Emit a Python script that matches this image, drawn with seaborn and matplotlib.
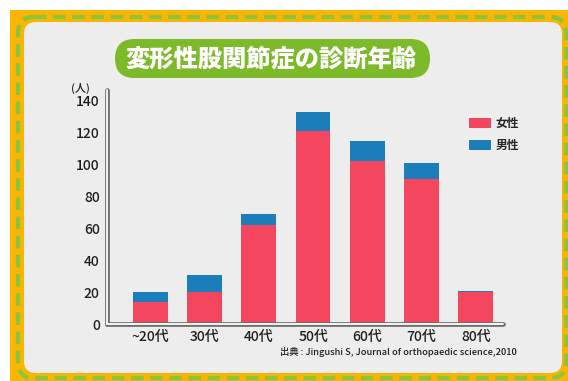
import matplotlib
matplotlib.use("Agg")
import matplotlib.pyplot as plt
from matplotlib.patches import FancyBboxPatch, Rectangle
from matplotlib.lines import Line2D
import seaborn as sns
import pandas as pd

# ---- data ----
categories = ["~20代", "30代", "40代", "50代", "60代", "70代", "80代"]
female = [14, 20, 62, 121, 102, 91, 20]
male = [6, 11, 7, 12, 13, 10, 1]
yticks = [0, 20, 40, 60, 80, 100, 120, 140]
title = "変形性股関節症の診断年齢"
unit_label = "(人)"
source = "出典 : Jingushi S, Journal of orthopaedic science,2010"
legend_labels = ["女性", "男性"]

sns.set_style("white")
plt.rcParams["font.family"] = ["Noto Sans CJK JP", "DejaVu Sans"]

RED = "#F4475F"
BLUE = "#1B7DB9"
ORANGE = "#F9B500"
GREEN = "#8CC43C"
PANEL = "#EDEDED"
GRAY = "#6E6E6E"
TXT = "#1E1E1E"

W, H = 568, 381
fig = plt.figure(figsize=(W / 100, H / 100), dpi=100)
fig.patch.set_facecolor("white")

# background decoration axes in pixel coords
bg = fig.add_axes([0, 0, 1, 1], zorder=-1)
bg.set_xlim(0, W)
bg.set_ylim(H, 0)
bg.axis("off")
bg.add_patch(Rectangle((10, 10), W, H, facecolor=ORANGE, edgecolor="none"))
bg.add_patch(FancyBboxPatch((18, 17), 548, 361, boxstyle="round,pad=0,rounding_size=16",
                            facecolor="none", edgecolor=GREEN, lw=3,
                            linestyle=(0, (3, 1.6))))
bg.add_patch(FancyBboxPatch((24, 22), 538, 351, boxstyle="round,pad=0,rounding_size=12",
                            facecolor=PANEL, edgecolor="none"))
# title pill
bg.add_patch(FancyBboxPatch((115, 39), 315, 39, boxstyle="round,pad=0,rounding_size=19.5",
                            facecolor="#7DBA2A", edgecolor="none"))
bg.text(271, 59, title, color="white", fontsize=17.5, fontweight="black",
        ha="center", va="center")
bg.text(517, 352, source, fontsize=6.7, ha="right", va="center", color=TXT,
        fontweight="medium")
bg.text(80, 88, unit_label, fontsize=8, ha="center", va="center", color=TXT,
        fontweight="medium")

# main axes
x0, x1 = 106.7, 503
y0, y1 = 324.3, 90
ax = fig.add_axes([x0 / W, (H - y0) / H, (x1 - x0) / W, (y0 - y1) / H])
ax.set_facecolor("none")

df = pd.DataFrame({"cat": categories, "female": female,
                   "total": [f + m for f, m in zip(female, male)]})
sns.barplot(data=df, x="cat", y="total", color=BLUE, width=0.64,
            saturation=1, ax=ax, label=legend_labels[1])
sns.barplot(data=df, x="cat", y="female", color=RED, width=0.64,
            saturation=1, ax=ax, label=legend_labels[0])
for p in ax.patches:
    p.set_edgecolor("none")

ax.set_xlim(-0.8, 6.5)
ax.set_ylim(0, 146.7)
ax.set_yticks(yticks)
ax.set_xlabel("")
ax.set_ylabel("")
ax.tick_params(axis="y", direction="in", length=4, width=1.5, color=GRAY,
               labelsize=10, pad=5, labelcolor=TXT)
ax.tick_params(axis="x", length=0, labelsize=10, pad=4, labelcolor=TXT)
for t in ax.get_xticklabels() + ax.get_yticklabels():
    t.set_fontweight("medium")
for s in ["top", "right"]:
    ax.spines[s].set_visible(False)
for s in ["left", "bottom"]:
    ax.spines[s].set_color(GRAY)
    ax.spines[s].set_linewidth(3.4)
    ax.spines[s].set_capstyle("round")
# white inner line for double-line axis look
ax.add_line(Line2D([0, 0], [0, 1], transform=ax.transAxes, color="white",
                   lw=1.3, clip_on=False, zorder=5))
ax.add_line(Line2D([0, 1], [0, 0], transform=ax.transAxes, color="white",
                   lw=1.3, clip_on=False, zorder=5))

h, l = ax.get_legend_handles_labels()
order = [l.index(legend_labels[0]), l.index(legend_labels[1])]
leg = ax.legend([h[i] for i in order], [l[i] for i in order],
                loc="upper left", bbox_to_anchor=((469 - x0) / (x1 - x0), (y0 - 117) / (y0 - y1)),
                frameon=False, fontsize=8.5, handlelength=1.9, handleheight=0.95,
                handletextpad=0.35, labelspacing=0.75, borderpad=0, borderaxespad=0)
for t in leg.get_texts():
    t.set_fontweight("bold")

fig.savefig("out.png", dpi=100, facecolor=fig.get_facecolor())
